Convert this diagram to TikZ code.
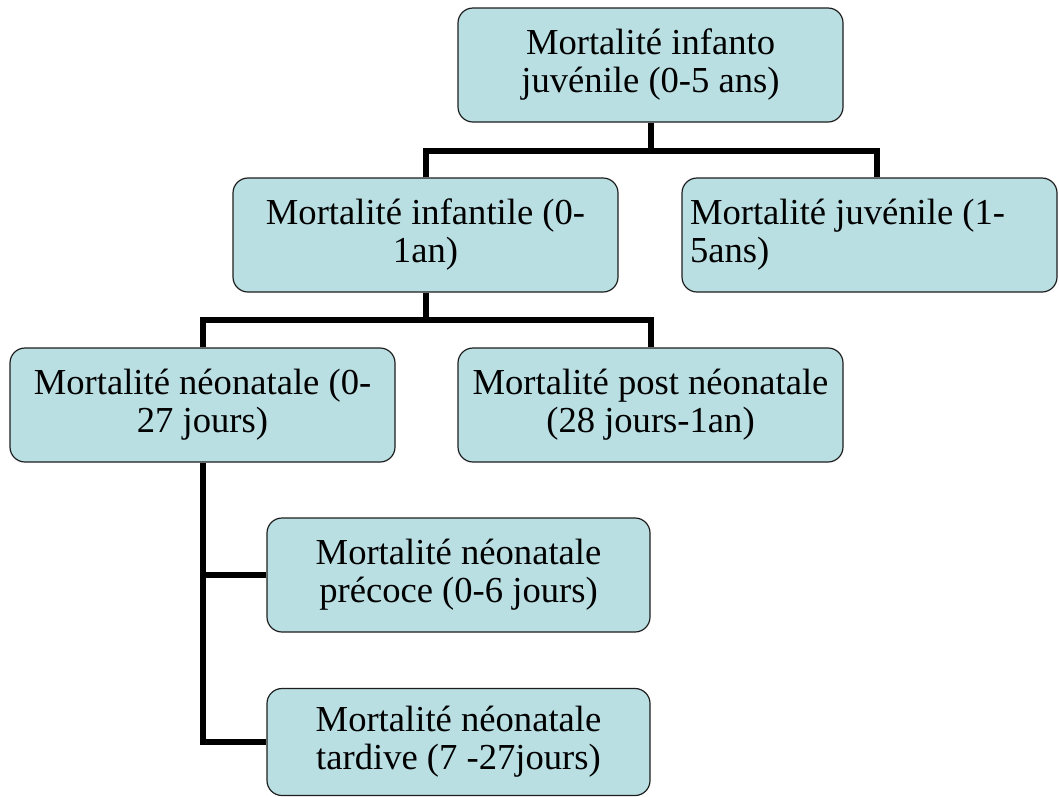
\documentclass[tikz,border=0pt]{standalone}
\usepackage{fontspec}
\setmainfont{Liberation Serif}
\definecolor{boxfill}{HTML}{B9DFE3}
\definecolor{boxline}{HTML}{1E1E1E}
\tikzset{
  mbox/.style={draw=boxline, line width=1.2pt, fill=boxfill, rounded corners=15pt,
    minimum width=385pt, minimum height=114pt, align=center, inner sep=4pt,
    font=\fontsize{36.6pt}{38pt}\selectfont},
  conn/.style={line width=6pt, draw=black}
}
\begin{document}
\begin{tikzpicture}[x=1pt,y=-1pt]
\useasboundingbox (0,0) rectangle (1059,796);
\node[mbox] (b1) at (650.5,65) {Mortalité infanto\\juvénile (0-5 ans)};
\node[mbox] (b2) at (425.5,235) {Mortalité infantile (0-\\1an)};
\node[mbox, minimum width=375pt, text width=359pt, align=flush left, inner xsep=8pt] (b3) at (869.5,235) {Mortalité juvénile (1-\\5ans)};
\node[mbox] (b4) at (202.5,405) {Mortalité néonatale (0-\\27 jours)};
\node[mbox] (b5) at (650.5,405) {Mortalité post néonatale\\(28 jours-1an)};
\node[mbox, minimum width=383pt] (b6) at (458.5,575) {Mortalité néonatale\\précoce (0-6 jours)};
\node[mbox, minimum width=383pt, minimum height=107pt] (b7) at (458.5,742) {Mortalité néonatale\\tardive (7 -27jours)};
\coordinate (bus1) at (0,151);
\coordinate (bus2) at (0,320);
\coordinate (b3top) at ([xshift=7.5pt]b3.north);
\draw[conn] (b1.south) -- (b1.south |- bus1);
\draw[conn] (b2.north) |- (bus1 -| b3top) -- (b3top);
\draw[conn] (b2.south) -- (b2.south |- bus2);
\draw[conn] (b4.north) |- (bus2 -| b5.north) -- (b5.north);
\draw[conn] (b4.south) |- (b7.west);
\draw[conn] (b4.south |- b6.west) -- (b6.west);
\end{tikzpicture}
\end{document}
